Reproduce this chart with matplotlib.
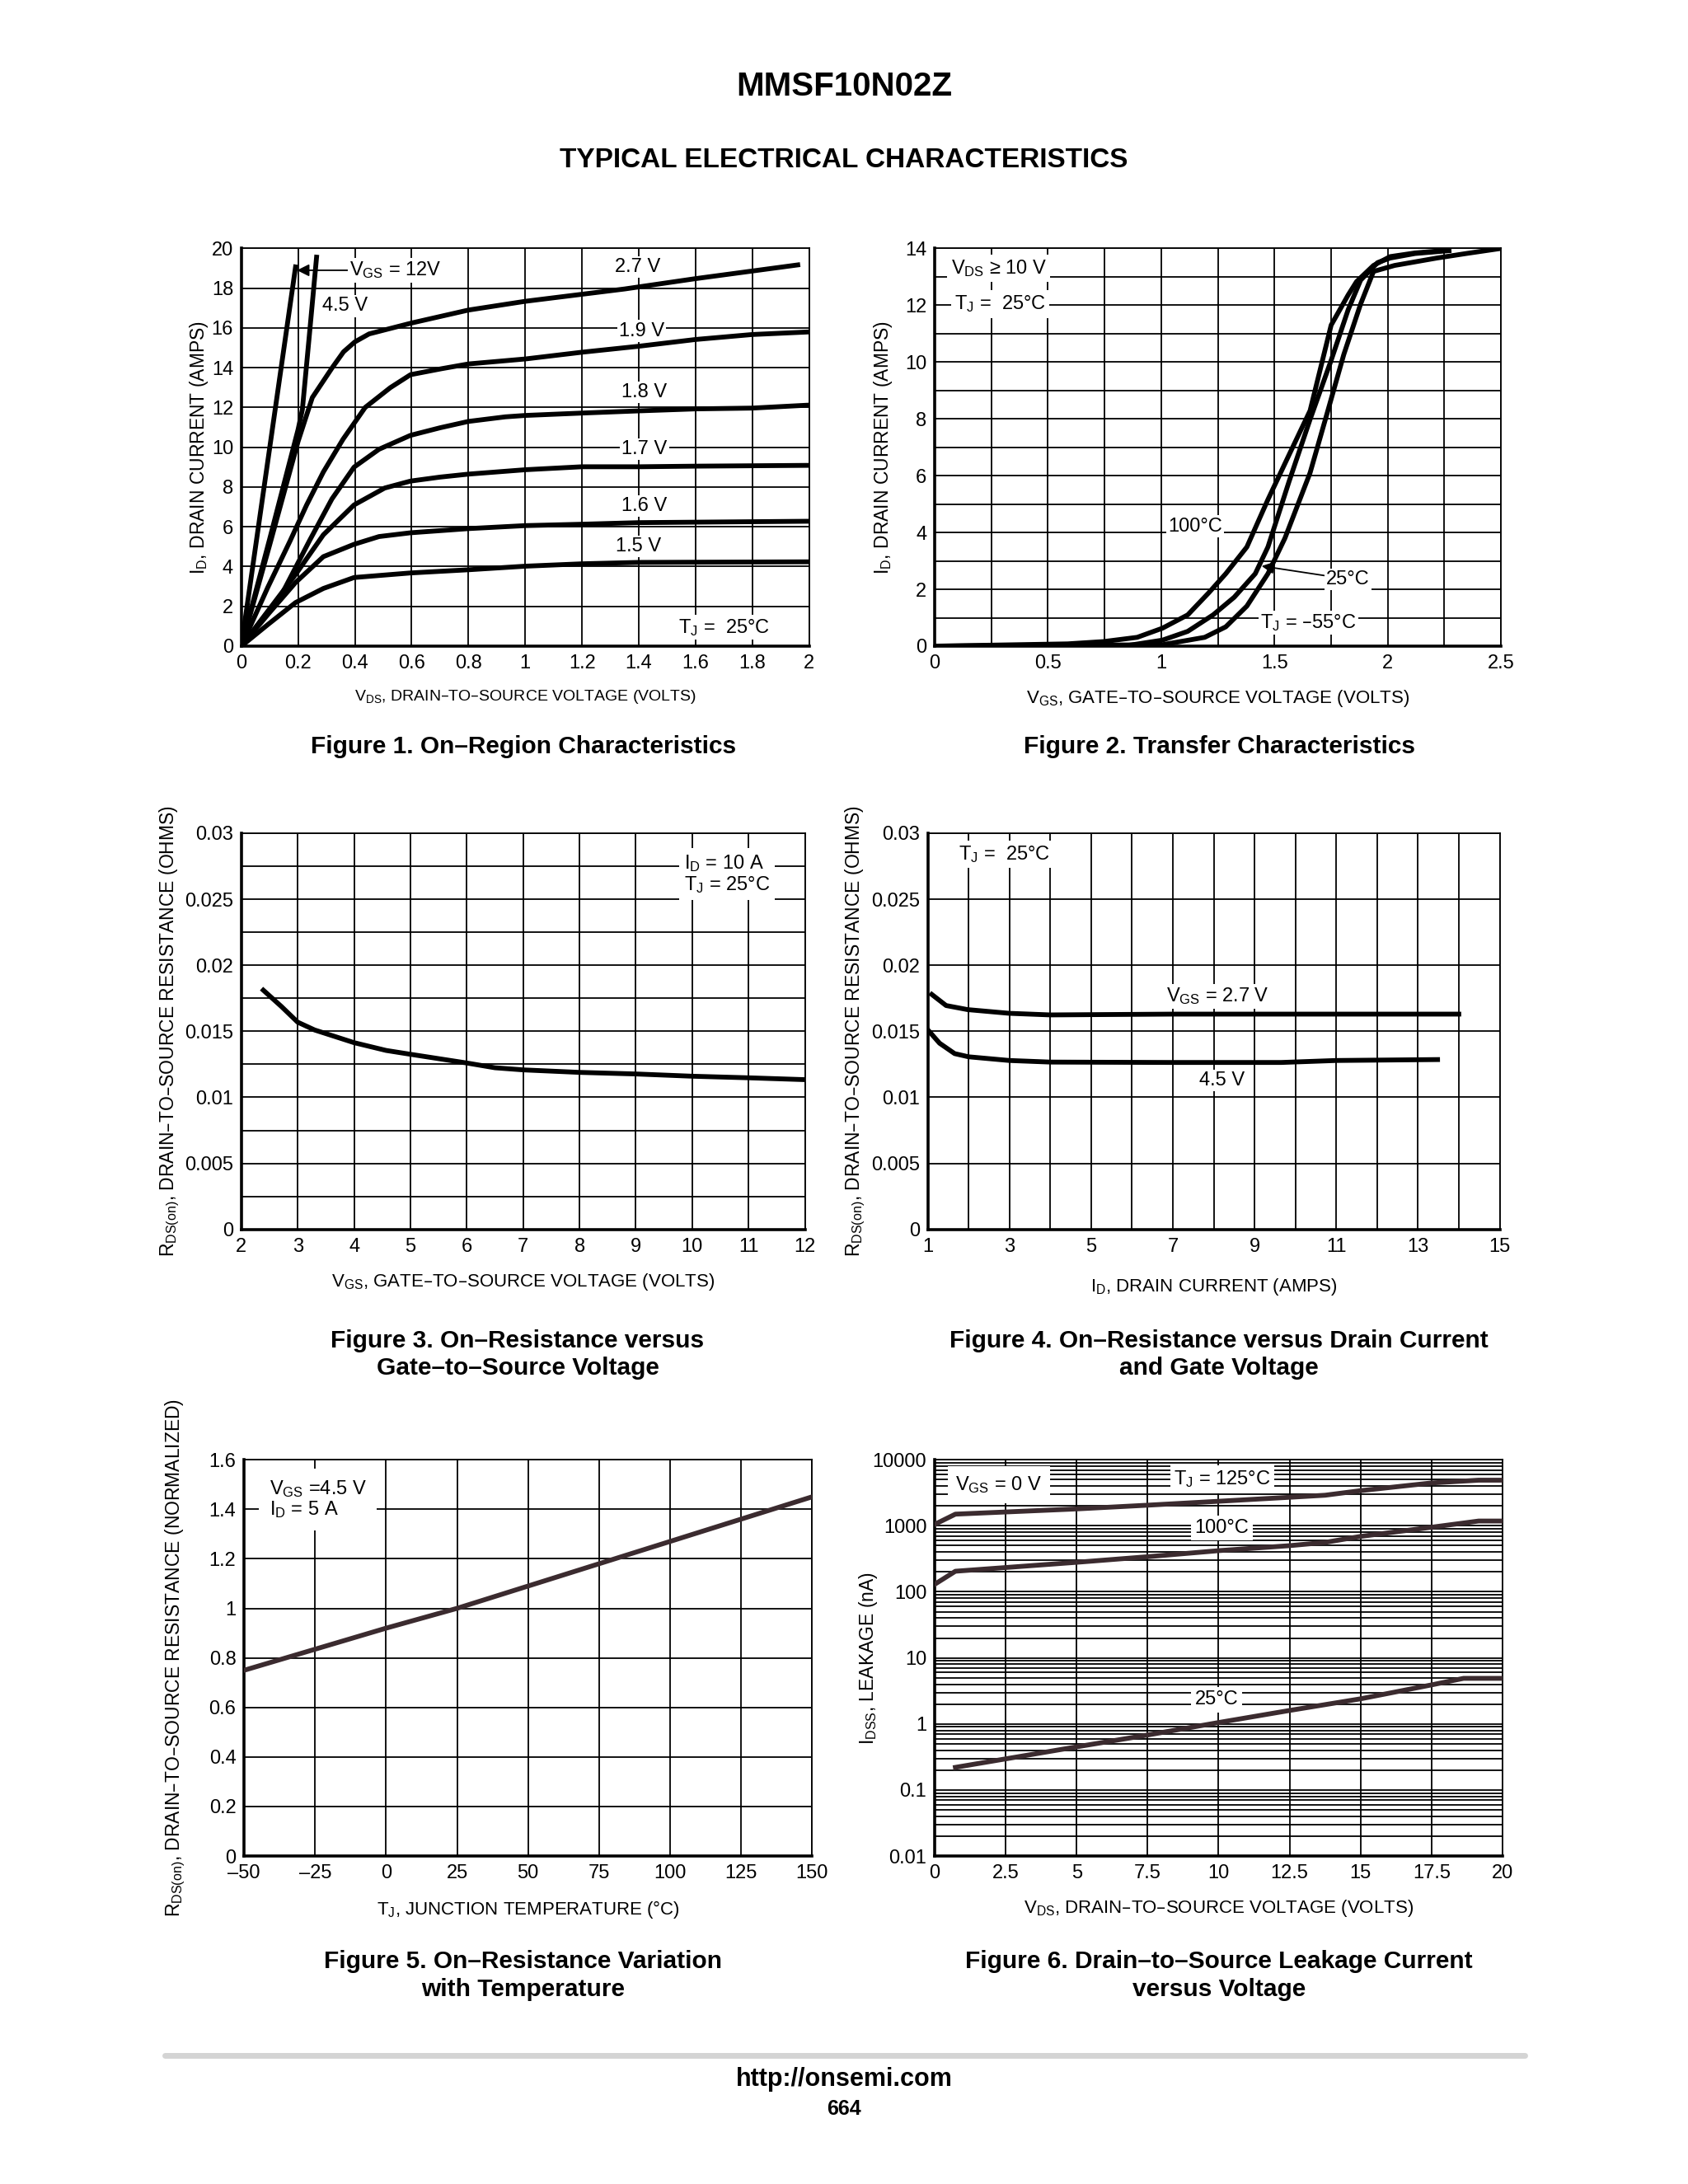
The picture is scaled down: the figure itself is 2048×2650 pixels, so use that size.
import matplotlib
matplotlib.use("Agg")
import matplotlib.pyplot as plt
from matplotlib import font_manager
from matplotlib.ticker import MultipleLocator, FixedLocator, LogLocator, NullFormatter

# fonts: narrow face for the plot text if it is installed
names = {f.name for f in font_manager.fontManager.ttflist}
NARROW = 'Liberation Sans Narrow' if 'Liberation Sans Narrow' in names else 'Liberation Sans'
plt.rcParams['font.family'] = [NARROW, 'DejaVu Sans']
plt.rcParams['mathtext.default'] = 'regular'

# ---- Figure 1: on-region characteristics (TJ = 25C)
vds_12 = [0, 0.191]
id_12 = [0, 19.07]
vds_45 = [0, 0.10, 0.20, 0.215, 0.24, 0.265]
id_45 = [0, 5.4, 10.9, 11.9, 15.7, 19.56]
vds_27 = [0, 0.10, 0.20, 0.25, 0.32, 0.36, 0.40, 0.45, 0.60, 0.80, 1.00, 1.35, 1.60, 1.96]
id_27 = [0, 5.1, 10.3, 12.5, 14.0, 14.8, 15.3, 15.7, 16.25, 16.9, 17.34, 17.96, 18.48, 19.17]
vds_19 = [0, 0.093, 0.172, 0.23, 0.289, 0.358, 0.436, 0.525, 0.596, 0.705, 0.80, 1.0, 1.2, 1.4, 1.6, 1.8, 2.0]
id_19 = [0, 2.95, 5.3, 7.1, 8.76, 10.4, 12.0, 13.0, 13.65, 13.95, 14.19, 14.44, 14.78, 15.08, 15.42, 15.67, 15.8]
vds_18 = [0, 0.142, 0.24, 0.319, 0.397, 0.485, 0.596, 0.70, 0.80, 0.93, 1.0, 1.2, 1.4, 1.6, 1.8, 2.0]
id_18 = [0, 2.6, 5.3, 7.4, 9.0, 9.9, 10.6, 10.98, 11.3, 11.53, 11.6, 11.72, 11.83, 11.93, 11.97, 12.12]
vds_17 = [0, 0.191, 0.289, 0.397, 0.505, 0.596, 0.70, 0.80, 1.0, 1.2, 1.4, 1.6, 2.0]
id_17 = [0, 3.6, 5.6, 7.1, 7.95, 8.3, 8.5, 8.65, 8.87, 9.02, 9.02, 9.05, 9.09]
vds_16 = [0, 0.10, 0.191, 0.289, 0.397, 0.485, 0.596, 0.80, 1.0, 1.2, 1.4, 2.0]
id_16 = [0, 1.7, 3.2, 4.5, 5.12, 5.51, 5.7, 5.91, 6.06, 6.13, 6.21, 6.28]
vds_15 = [0, 0.093, 0.191, 0.289, 0.397, 0.596, 0.80, 1.0, 1.2, 1.4, 2.0]
id_15 = [0, 1.08, 2.19, 2.9, 3.45, 3.68, 3.84, 4.02, 4.14, 4.21, 4.24]

# ---- Figure 2: transfer characteristics
vgs_100 = [0, 0.587, 0.745, 0.894, 1.005, 1.117, 1.21, 1.285, 1.378, 1.471, 1.564, 1.657, 1.75, 1.825, 1.862, 1.937, 2.01, 2.12, 2.27]
id_100 = [0, 0.08, 0.16, 0.31, 0.63, 1.1, 1.88, 2.55, 3.49, 5.16, 6.73, 8.29, 11.3, 12.36, 12.83, 13.4, 13.71, 13.84, 13.94]
vgs_25 = [0, 0.85, 1.005, 1.117, 1.229, 1.322, 1.415, 1.471, 1.564, 1.657, 1.75, 1.825, 1.88, 1.955, 2.01, 2.12, 2.27]
id_25 = [0, 0.02, 0.21, 0.52, 1.1, 1.72, 2.55, 3.49, 5.79, 7.98, 10.06, 11.84, 12.88, 13.5, 13.66, 13.82, 13.92]
vgs_m55 = [0, 1.005, 1.192, 1.285, 1.378, 1.471, 1.546, 1.657, 1.732, 1.806, 1.88, 1.937, 2.03, 2.216, 2.346, 2.5]
id_m55 = [0, 0.05, 0.31, 0.68, 1.41, 2.55, 3.8, 6.1, 8.19, 10.27, 12.04, 13.19, 13.4, 13.66, 13.82, 14.0]

# ---- Figure 3: RDS(on) vs VGS
vgs_r = [2.39, 2.71, 3.0, 3.3, 4.0, 4.57, 5.0, 6.0, 6.5, 7.0, 8.0, 9.0, 10.0, 11.0, 12.0]
rds_vgs = [0.01811, 0.01688, 0.01569, 0.0151, 0.01414, 0.01355, 0.01326, 0.0126, 0.01224, 0.01208, 0.01189, 0.01177, 0.0116, 0.01148, 0.01134]

# ---- Figure 4: RDS(on) vs ID
id_r27 = [1.1, 1.45, 1.98, 3.0, 4.0, 7.0, 14.0]
rds_27 = [0.01779, 0.01695, 0.01664, 0.01636, 0.01624, 0.0163, 0.0163]
id_r45 = [1.02, 1.29, 1.66, 2.0, 3.0, 4.0, 7.0, 9.65, 11.0, 13.48]
rds_45 = [0.01505, 0.0141, 0.01331, 0.01307, 0.01279, 0.01267, 0.01264, 0.01264, 0.01279, 0.01286]

# ---- Figure 5: normalized RDS(on) vs temperature
tj = [-50, 0, 25, 100, 150]
rds_norm = [0.75, 0.92, 1.0, 1.27, 1.45]

# ---- Figure 6: IDSS leakage vs VDS
vds_125 = [0, 0.73, 5.0, 7.5, 10.0, 12.5, 13.75, 15.0, 16.27, 17.5, 19.16, 20.0]
idss_125 = [1050, 1500, 1800, 2050, 2350, 2700, 2900, 3400, 3900, 4450, 4900, 4900]
vds_100 = [0, 0.73, 5.0, 7.5, 10.0, 12.5, 13.75, 15.0, 17.5, 19.16, 20.0]
idss_100 = [130, 205, 280, 340, 420, 500, 560, 690, 950, 1180, 1180]
vds_25 = [0.73, 5.0, 7.5, 10.0, 12.5, 15.0, 17.5, 18.63, 20.0]
idss_25 = [0.22, 0.45, 0.68, 1.05, 1.6, 2.4, 3.9, 4.9, 4.9]

# ---- layout helpers (reference measured on a 1210 x 1565 grid)
W, H = 1210.0, 1565.0
CURVE = 'black'
CURVE2 = '#3b2b2f'
LW = 4.2
GRID_LW = 1.3
TICK_FS = 17
YLAB_FS = 16.5
NOTE_FS = 17
box = dict(facecolor='white', edgecolor='none', pad=1.5)


def rect(x0, y0, x1, y1):
    return [x0 / W, 1 - y1 / H, (x1 - x0) / W, (y1 - y0) / H]


def style(ax, xlabel, ylabel, xlab_y, ylab_x, xlab_fs=16):
    ax.grid(which='both', color='black', lw=GRID_LW)
    ax.tick_params(which='both', length=0, labelsize=TICK_FS, pad=7)
    for s in ['top', 'right']:
        ax.spines[s].set_linewidth(GRID_LW)
    for s in ['left', 'bottom']:
        ax.spines[s].set_linewidth(2.6)
    ax.set_xlabel(xlabel, fontsize=xlab_fs)
    ax.xaxis.set_label_coords(0.5, xlab_y)
    ax.set_ylabel(ylabel, fontsize=YLAB_FS, family=['Liberation Sans', 'DejaVu Sans'])
    ax.yaxis.set_label_coords(ylab_x, 0.5)


def note(ax, x, y, s, pad=1.5, **kw):
    kw.setdefault('ha', 'center')
    kw.setdefault('va', 'center')
    ax.text(x, y, s, fontsize=NOTE_FS, zorder=3,
            bbox=dict(facecolor='white', edgecolor='none', pad=pad), **kw)


fig = plt.figure(figsize=(20.48, 26.5), dpi=100)

# Figure 1
ax1 = fig.add_axes(rect(173, 178, 580, 463))
for xs, ys in [(vds_12, id_12), (vds_45, id_45), (vds_27, id_27), (vds_19, id_19),
               (vds_18, id_18), (vds_17, id_17), (vds_16, id_16), (vds_15, id_15)]:
    ax1.plot(xs, ys, color=CURVE, lw=LW, zorder=4, solid_joinstyle='round')
ax1.set_xlim(0, 2)
ax1.set_ylim(0, 20)
ax1.set_xticks([i * 0.2 for i in range(11)])
ax1.set_xticklabels(['0', '0.2', '0.4', '0.6', '0.8', '1', '1.2', '1.4', '1.6', '1.8', '2'])
ax1.set_yticks(range(0, 21, 2))
style(ax1, '$V_{DS}$, DRAIN–TO–SOURCE VOLTAGE (VOLTS)', '$I_D$, DRAIN CURRENT (AMPS)',
      -0.105, -0.055, xlab_fs=14)
ax1.annotate('$V_{GS}$ = 12V', xy=(0.196, 18.9), xytext=(0.38, 18.9), ha='left', va='center',
             fontsize=NOTE_FS, bbox=box, zorder=5,
             arrowprops=dict(arrowstyle='-|>', color='black', lw=1.3, mutation_scale=22,
                             shrinkA=0, shrinkB=0))
note(ax1, 0.364, 17.1, '4.5 V')
note(ax1, 1.395, 19.05, '2.7 V')
note(ax1, 1.41, 15.85, '1.9 V')
note(ax1, 1.42, 12.75, '1.8 V')
note(ax1, 1.42, 9.9, '1.7 V')
note(ax1, 1.42, 7.05, '1.6 V')
note(ax1, 1.40, 5.0, '1.5 V')
note(ax1, 1.70, 0.95, '$T_J$ =  25°C')

# Figure 2
ax2 = fig.add_axes(rect(670, 178, 1076, 463))
for xs, ys in [(vgs_100, id_100), (vgs_25, id_25), (vgs_m55, id_m55)]:
    ax2.plot(xs, ys, color=CURVE, lw=LW, zorder=4, solid_joinstyle='round')
ax2.set_xlim(0, 2.5)
ax2.set_ylim(0, 14)
ax2.set_xticks([0, 0.5, 1, 1.5, 2, 2.5])
ax2.set_xticklabels(['0', '0.5', '1', '1.5', '2', '2.5'])
ax2.xaxis.set_minor_locator(MultipleLocator(0.25))
ax2.set_yticks(range(0, 15, 2))
ax2.yaxis.set_minor_locator(MultipleLocator(1))
style(ax2, '$V_{GS}$, GATE–TO–SOURCE VOLTAGE (VOLTS)', '$I_D$, DRAIN CURRENT (AMPS)',
      -0.105, -0.071)
note(ax2, 0.283, 13.3, '$V_{DS}$ ≥ 10 V', pad=3)
note(ax2, 0.289, 12.04, '$T_J$ =  25°C', pad=3)
note(ax2, 1.151, 4.22, '100°C')
ax2.annotate('25°C', xy=(1.443, 2.82), xytext=(1.823, 2.36), ha='center', va='center',
             fontsize=NOTE_FS, bbox=box, zorder=5,
             arrowprops=dict(arrowstyle='-|>', color='black', lw=1.3, mutation_scale=22,
                             shrinkA=0, shrinkB=0))
note(ax2, 1.65, 0.835, '$T_J$ = –55°C')

# Figure 3
ax3 = fig.add_axes(rect(173, 597, 577, 881))
ax3.plot(vgs_r, rds_vgs, color=CURVE, lw=LW, zorder=4, solid_joinstyle='round')
ax3.set_xlim(2, 12)
ax3.set_ylim(0, 0.03)
ax3.set_xticks(range(2, 13))
ax3.set_yticks([0, 0.005, 0.01, 0.015, 0.02, 0.025, 0.03])
ax3.set_yticklabels(['0', '0.005', '0.01', '0.015', '0.02', '0.025', '0.03'])
ax3.yaxis.set_minor_locator(MultipleLocator(0.0025))
style(ax3, '$V_{GS}$, GATE–TO–SOURCE VOLTAGE (VOLTS)',
      '$R_{DS(on)}$, DRAIN–TO–SOURCE RESISTANCE (OHMS)', -0.106, -0.106)
note(ax3, 9.85, 0.0269, '$I_D$ = 10 A\n$T_J$ = 25°C', pad=4, ha='left', linespacing=1.1)

# Figure 4
ax4 = fig.add_axes(rect(665, 597, 1075, 881))
ax4.plot(id_r27, rds_27, color=CURVE, lw=LW, zorder=4, solid_joinstyle='round')
ax4.plot(id_r45, rds_45, color=CURVE, lw=LW, zorder=4, solid_joinstyle='round')
ax4.set_xlim(1, 15)
ax4.set_ylim(0, 0.03)
ax4.set_xticks(range(1, 16, 2))
ax4.xaxis.set_minor_locator(MultipleLocator(1))
ax4.set_yticks([0, 0.005, 0.01, 0.015, 0.02, 0.025, 0.03])
ax4.set_yticklabels(['0', '0.005', '0.01', '0.015', '0.02', '0.025', '0.03'])
style(ax4, '$I_D$, DRAIN CURRENT (AMPS)',
      '$R_{DS(on)}$, DRAIN–TO–SOURCE RESISTANCE (OHMS)', -0.12, -0.106)
note(ax4, 2.88, 0.0284, '$T_J$ =  25°C', pad=3)
note(ax4, 8.1, 0.01764, '$V_{GS}$ = 2.7 V')
note(ax4, 8.2, 0.0113, '4.5 V')

# Figure 5
ax5 = fig.add_axes(rect(175, 1046, 582, 1330))
ax5.plot(tj, rds_norm, color=CURVE2, lw=LW, zorder=4)
ax5.set_xlim(-50, 150)
ax5.set_ylim(0, 1.6)
ax5.set_xticks(range(-50, 151, 25))
ax5.set_xticklabels(['–50', '–25', '0', '25', '50', '75', '100', '125', '150'])
ax5.set_yticks([0, 0.2, 0.4, 0.6, 0.8, 1.0, 1.2, 1.4, 1.6])
ax5.set_yticklabels(['0', '0.2', '0.4', '0.6', '0.8', '1', '1.2', '1.4', '1.6'])
style(ax5, '$T_J$, JUNCTION TEMPERATURE (°C)',
      '$R_{DS(on)}$, DRAIN–TO–SOURCE RESISTANCE (NORMALIZED)', -0.109, -0.1)
note(ax5, -41.2, 1.44, '$V_{GS}$ =4.5 V\n$I_D$ = 5 A', pad=9, ha='left', linespacing=1.0)

# Figure 6
ax6 = fig.add_axes(rect(670, 1046, 1077, 1330))
ax6.set_yscale('log')
for xs, ys in [(vds_125, idss_125), (vds_100, idss_100), (vds_25, idss_25)]:
    ax6.plot(xs, ys, color=CURVE2, lw=LW, zorder=4)
ax6.set_xlim(0, 20)
ax6.set_ylim(0.01, 10000)
ax6.set_xticks([0, 2.5, 5, 7.5, 10, 12.5, 15, 17.5, 20])
ax6.set_xticklabels(['0', '2.5', '5', '7.5', '10', '12.5', '15', '17.5', '20'])
ax6.yaxis.set_major_locator(FixedLocator([0.01, 0.1, 1, 10, 100, 1000, 10000]))
ax6.set_yticklabels(['0.01', '0.1', '1', '10', '100', '1000', '10000'])
ax6.yaxis.set_minor_locator(LogLocator(base=10, subs=range(2, 10), numticks=30))
ax6.yaxis.set_minor_formatter(NullFormatter())
style(ax6, '$V_{DS}$, DRAIN–TO–SOURCE VOLTAGE (VOLTS)', '$I_{DSS}$, LEAKAGE (nA)',
      -0.106, -0.098)
note(ax6, 2.26, 4170, '$V_{GS}$ = 0 V', pad=7)
note(ax6, 10.12, 5040, '$T_J$ = 125°C', pad=3)
note(ax6, 10.12, 923, '100°C', pad=3)
note(ax6, 9.93, 2.32, '25°C', pad=3)

# page text
bold = dict(family=['Liberation Sans', 'DejaVu Sans'], weight='bold', ha='center', va='center')
fig.text(605 / W, 1 - 62 / H, 'MMSF10N02Z', fontsize=29, **bold)
fig.text(605 / W, 1 - 115 / H, 'TYPICAL ELECTRICAL CHARACTERISTICS', fontsize=24, **bold)
captions = [
    (375, 535, 'Figure 1. On–Region Characteristics'),
    (874, 535, 'Figure 2. Transfer Characteristics'),
    (371, 970.5, 'Figure 3. On–Resistance versus\nGate–to–Source Voltage'),
    (874, 970.5, 'Figure 4. On–Resistance versus Drain Current\nand Gate Voltage'),
    (375, 1415.5, 'Figure 5. On–Resistance Variation\nwith Temperature'),
    (874, 1415.5, 'Figure 6. Drain–to–Source Leakage Current\nversus Voltage'),
]
for cx, cy, txt in captions:
    fig.text(cx / W, 1 - cy / H, txt, fontsize=21.5, linespacing=1.25, **bold)

fig.add_artist(plt.Line2D([118 / W, 1093 / W], [1 - 1473 / H, 1 - 1473 / H],
                          color='#d4d4d4', lw=5, solid_capstyle='round'))
fig.text(605 / W, 1 - 1490 / H, 'http://onsemi.com', fontsize=22, **bold)
fig.text(605 / W, 1 - 1511 / H, '664', fontsize=18, **bold)

fig.savefig('out.png', dpi=100, facecolor='white')
